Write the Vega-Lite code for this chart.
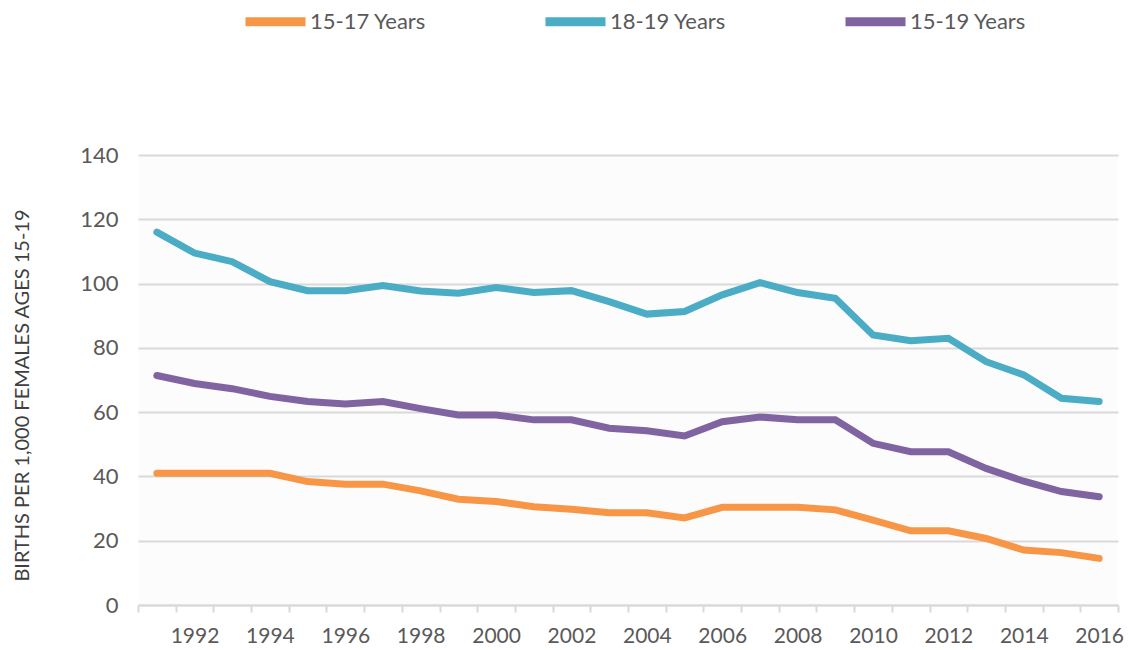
{
  "$schema": "https://vega.github.io/schema/vega-lite/v6.json",
  "width": 980,
  "height": 450,
  "autosize": {"type": "none"},
  "padding": {"left": 138, "top": 155, "right": 12, "bottom": 45},
  "background": "white",
  "config": {
    "font": "Lato",
    "view": {"stroke": null, "fill": "#fcfcfc"}
  },
  "datasets": {
    "births": [
      {"year": "1991", "series": "15-17 Years", "value": 41},
      {"year": "1992", "series": "15-17 Years", "value": 41},
      {"year": "1993", "series": "15-17 Years", "value": 41},
      {"year": "1994", "series": "15-17 Years", "value": 41},
      {"year": "1995", "series": "15-17 Years", "value": 38.4},
      {"year": "1996", "series": "15-17 Years", "value": 37.6},
      {"year": "1997", "series": "15-17 Years", "value": 37.6},
      {"year": "1998", "series": "15-17 Years", "value": 35.5},
      {"year": "1999", "series": "15-17 Years", "value": 32.9},
      {"year": "2000", "series": "15-17 Years", "value": 32.2},
      {"year": "2001", "series": "15-17 Years", "value": 30.6},
      {"year": "2002", "series": "15-17 Years", "value": 29.8},
      {"year": "2003", "series": "15-17 Years", "value": 28.7},
      {"year": "2004", "series": "15-17 Years", "value": 28.7},
      {"year": "2005", "series": "15-17 Years", "value": 27.1},
      {"year": "2006", "series": "15-17 Years", "value": 30.4},
      {"year": "2007", "series": "15-17 Years", "value": 30.4},
      {"year": "2008", "series": "15-17 Years", "value": 30.4},
      {"year": "2009", "series": "15-17 Years", "value": 29.6},
      {"year": "2010", "series": "15-17 Years", "value": 26.4},
      {"year": "2011", "series": "15-17 Years", "value": 23.1},
      {"year": "2012", "series": "15-17 Years", "value": 23.1},
      {"year": "2013", "series": "15-17 Years", "value": 20.7},
      {"year": "2014", "series": "15-17 Years", "value": 17.1},
      {"year": "2015", "series": "15-17 Years", "value": 16.3},
      {"year": "2016", "series": "15-17 Years", "value": 14.5},
      {"year": "1991", "series": "18-19 Years", "value": 116},
      {"year": "1992", "series": "18-19 Years", "value": 109.5},
      {"year": "1993", "series": "18-19 Years", "value": 106.8},
      {"year": "1994", "series": "18-19 Years", "value": 100.6},
      {"year": "1995", "series": "18-19 Years", "value": 97.8},
      {"year": "1996", "series": "18-19 Years", "value": 97.8},
      {"year": "1997", "series": "18-19 Years", "value": 99.4},
      {"year": "1998", "series": "18-19 Years", "value": 97.7},
      {"year": "1999", "series": "18-19 Years", "value": 97},
      {"year": "2000", "series": "18-19 Years", "value": 98.8},
      {"year": "2001", "series": "18-19 Years", "value": 97.2},
      {"year": "2002", "series": "18-19 Years", "value": 97.8},
      {"year": "2003", "series": "18-19 Years", "value": 94.4},
      {"year": "2004", "series": "18-19 Years", "value": 90.5},
      {"year": "2005", "series": "18-19 Years", "value": 91.3},
      {"year": "2006", "series": "18-19 Years", "value": 96.5},
      {"year": "2007", "series": "18-19 Years", "value": 100.3},
      {"year": "2008", "series": "18-19 Years", "value": 97.2},
      {"year": "2009", "series": "18-19 Years", "value": 95.4},
      {"year": "2010", "series": "18-19 Years", "value": 84},
      {"year": "2011", "series": "18-19 Years", "value": 82.2},
      {"year": "2012", "series": "18-19 Years", "value": 83},
      {"year": "2013", "series": "18-19 Years", "value": 75.7},
      {"year": "2014", "series": "18-19 Years", "value": 71.6},
      {"year": "2015", "series": "18-19 Years", "value": 64.3},
      {"year": "2016", "series": "18-19 Years", "value": 63.3},
      {"year": "1991", "series": "15-19 Years", "value": 71.4},
      {"year": "1992", "series": "15-19 Years", "value": 68.9},
      {"year": "1993", "series": "15-19 Years", "value": 67.3},
      {"year": "1994", "series": "15-19 Years", "value": 64.9},
      {"year": "1995", "series": "15-19 Years", "value": 63.3},
      {"year": "1996", "series": "15-19 Years", "value": 62.5},
      {"year": "1997", "series": "15-19 Years", "value": 63.3},
      {"year": "1998", "series": "15-19 Years", "value": 61.1},
      {"year": "1999", "series": "15-19 Years", "value": 59.1},
      {"year": "2000", "series": "15-19 Years", "value": 59.1},
      {"year": "2001", "series": "15-19 Years", "value": 57.6},
      {"year": "2002", "series": "15-19 Years", "value": 57.6},
      {"year": "2003", "series": "15-19 Years", "value": 55},
      {"year": "2004", "series": "15-19 Years", "value": 54.2},
      {"year": "2005", "series": "15-19 Years", "value": 52.6},
      {"year": "2006", "series": "15-19 Years", "value": 57},
      {"year": "2007", "series": "15-19 Years", "value": 58.5},
      {"year": "2008", "series": "15-19 Years", "value": 57.6},
      {"year": "2009", "series": "15-19 Years", "value": 57.6},
      {"year": "2010", "series": "15-19 Years", "value": 50.3},
      {"year": "2011", "series": "15-19 Years", "value": 47.7},
      {"year": "2012", "series": "15-19 Years", "value": 47.7},
      {"year": "2013", "series": "15-19 Years", "value": 42.5},
      {"year": "2014", "series": "15-19 Years", "value": 38.5},
      {"year": "2015", "series": "15-19 Years", "value": 35.3},
      {"year": "2016", "series": "15-19 Years", "value": 33.7}
    ]
  },
  "data": {"name": "births"},
  "mark": {"type": "line", "strokeWidth": 7, "strokeJoin": "miter", "strokeCap": "round"},
  "encoding": {
    "x": {
      "field": "year",
      "type": "ordinal",
      "sort": null,
      "scale": {"type": "band", "paddingInner": 0, "paddingOuter": 0},
      "axis": {
        "title": null,
        "labelAngle": 0,
        "labelExpr": "toNumber(datum.value) % 2 == 0 ? datum.value : ''",
        "labelFontSize": 21,
        "labelColor": "#595959",
        "labelPadding": 13,
        "tickBand": "extent",
        "tickSize": 7,
        "tickColor": "#d9d9d9",
        "tickWidth": 2,
        "domainColor": "#d9d9d9",
        "domainWidth": 2,
        "grid": false
      }
    },
    "y": {
      "field": "value",
      "type": "quantitative",
      "scale": {"domain": [0, 140], "nice": false},
      "axis": {
        "title": "BIRTHS PER 1,000 FEMALES AGES 15-19",
        "titleFontSize": 20,
        "titleFontWeight": "normal",
        "titleColor": "#404040",
        "titleX": -106,
        "titleY": 240,
        "titleAngle": -90,
        "titleBaseline": "bottom",
        "values": [0, 20, 40, 60, 80, 100, 120, 140],
        "labelFontSize": 22,
        "labelColor": "#595959",
        "labelPadding": 20,
        "ticks": false,
        "domain": false,
        "grid": true,
        "gridColor": "#d9d9d9",
        "gridWidth": 2
      }
    },
    "color": {
      "field": "series",
      "type": "nominal",
      "scale": {
        "domain": ["15-17 Years", "18-19 Years", "15-19 Years"],
        "range": ["#F79646", "#4BACC6", "#8064A2"]
      },
      "legend": {
        "title": null,
        "orient": "none",
        "direction": "horizontal",
        "legendX": 103,
        "legendY": -168,
        "symbolType": "stroke",
        "symbolSize": 3600,
        "symbolStrokeWidth": 9,
        "labelFontSize": 22,
        "labelColor": "#595959",
        "labelOffset": 0,
        "columnPadding": 100
      }
    }
  }
}
